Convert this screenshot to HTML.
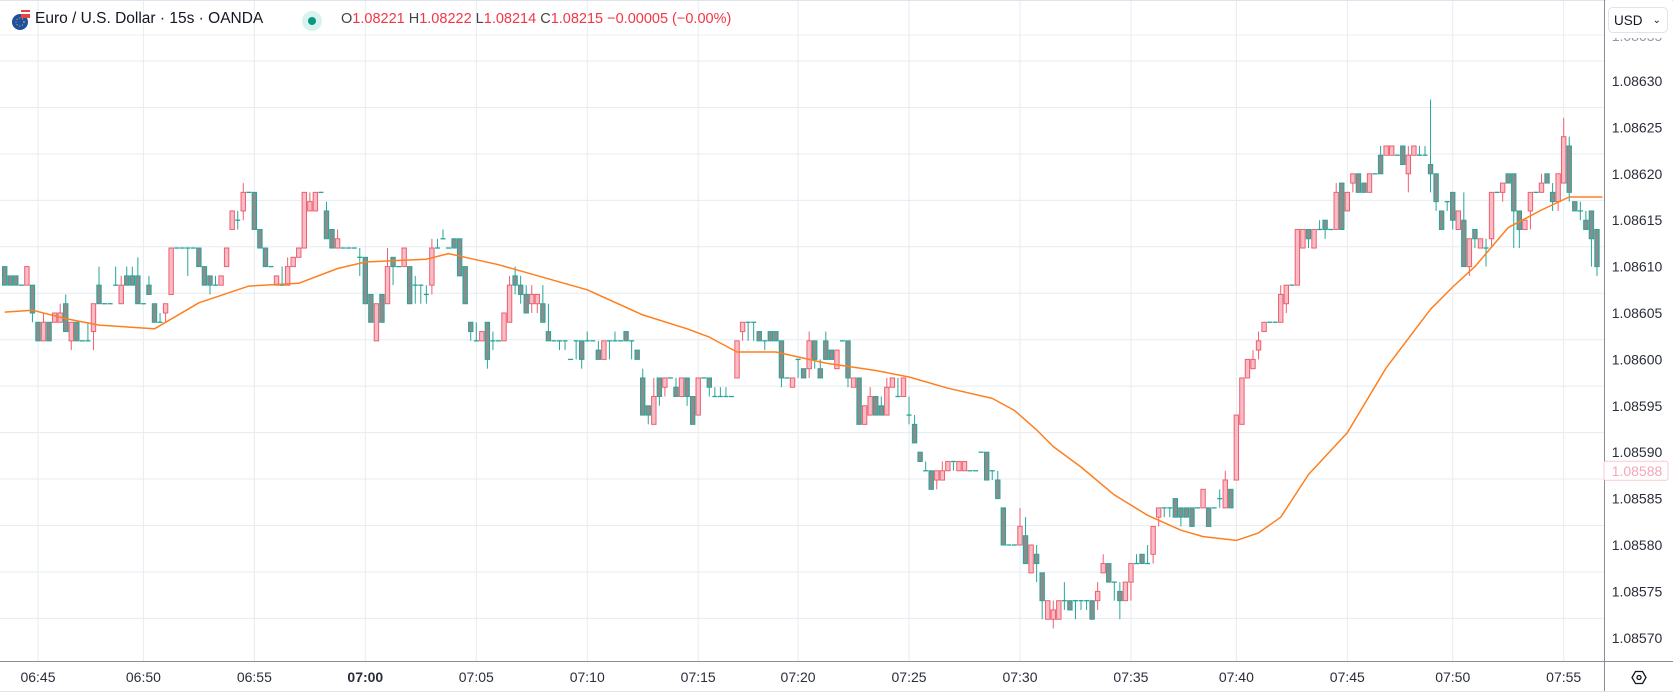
<!DOCTYPE html>
<html><head><meta charset="utf-8">
<style>
html,body{margin:0;padding:0;background:#fff;}
body{width:1673px;height:693px;position:relative;overflow:hidden;font-family:"Liberation Sans",sans-serif;}
#chart{position:absolute;left:0;top:0;}
.hdr{position:absolute;top:10px;font-size:15.5px;color:#131722;white-space:nowrap;}
.red{color:#f23645;}
</style></head>
<body>
<svg id="chart" width="1673" height="693"></svg>

<div class="hdr" style="left:10px;top:8px;">
<svg width="22" height="24"><circle cx="10" cy="14" r="8" fill="#1e4fa3"/><rect x="11" y="2" width="9" height="8" fill="#e84444"/><rect x="11" y="4" width="9" height="2" fill="#fff"/><circle cx="10" cy="14" r="4" fill="none" stroke="#f5d000" stroke-width="1" stroke-dasharray="1 2"/></svg>
</div>
<div class="hdr" style="left:35px;">Euro / U.S. Dollar · 15s · OANDA</div>
<div style="position:absolute;left:302px;top:11px;width:20px;height:20px;border-radius:50%;background:#d9f2ee;"><div style="position:absolute;left:6px;top:6px;width:8px;height:8px;border-radius:50%;background:#089981;"></div></div>
<div class="hdr" style="left:341px;font-size:14.5px;top:11px;"><span style="color:#444">O</span><span class="red">1.08221</span> <span style="color:#444">H</span><span class="red">1.08222</span> <span style="color:#444">L</span><span class="red">1.08214</span> <span style="color:#444">C</span><span class="red">1.08215</span> <span class="red">−0.00005 (−0.00%)</span></div>

<div style="position:absolute;left:1608px;top:7px;width:60px;height:26px;border:1px solid #e0e3eb;border-radius:5px;background:#fff;font-size:13.5px;color:#131722;line-height:26px;box-sizing:border-box;padding-left:5px;">USD<span style="position:absolute;right:6px;top:0;font-size:10px;">⌄</span></div>

<script>
const opens=[110,109,109,108,108,108,104,102,104,104,104,106,102,104,102,102,103,108,106,106,108,106,109,109,109,106,108,106,104,105,107,112,112,112,112,112,110,109,108,108,110,114,115,116,118,118,114,112,110,108,108,108,110,111,112,116,116,118,116,114,112,112,112,112,111,111,107,102,107,106,111,110,110,110,108,108,107,108,112,113,112,113,113,110,104,102,102,104,102,102,102,104,109,108,107,106,106,106,103,102,102,102,100,102,102,102,102,101,100,102,102,102,103,102,101,98,95,93,98,97,98,97,96,98,96,94,98,98,96,96,96,96,98,103,104,104,103,102,103,103,102,98,97,100,99,99,102,99,102,101,99,102,102,97,98,93,94,96,95,94,97,96,96,94,93,90,88,88,87,87,88,89,88,88,88,88,90,90,88,87,84,80,80,80,81,77,79,77,72,72,72,74,74,74,74,74,74,74,77,78,76,75,74,76,78,79,78,79,83,84,84,85,84,84,84,84,84,84,84,85,84,86,87,93,98,99,101,103,104,104,104,106,108,108,112,114,112,114,115,114,114,119,116,119,120,119,118,120,122,122,122,122,123,120,122,122,122,121,120,116,117,118,114,115,110,114,112,112,113,118,118,120,120,116,114,116,118,118,120,118,117,119,123,117,116,115,116,114];
const closes=[108,108,108,108,110,105,102,104,102,105,105,103,104,102,102,102,106,106,106,106,108,108,108,108,106,106,107,104,104,106,112,112,112,112,112,110,108,108,108,109,112,116,115,118,118,114,112,110,110,109,108,110,111,112,118,117,118,118,113,112,113,112,112,112,111,106,104,106,104,110,110,110,112,106,108,108,107,112,112,113,112,112,109,106,103,102,103,100,102,102,105,108,108,107,105,107,107,104,102,102,102,102,100,102,100,102,102,100,102,102,102,102,102,102,100,94,94,96,96,98,98,96,98,96,93,98,98,97,96,96,96,96,102,104,104,104,102,102,102,102,98,98,98,100,98,102,100,98,100,100,101,102,98,98,93,95,96,94,94,97,98,96,98,94,91,89,88,86,88,88,89,89,89,89,88,88,90,87,88,85,80,80,80,82,78,80,78,74,74,73,74,74,73,74,74,74,72,75,78,76,76,74,76,78,78,78,78,82,84,84,84,83,83,83,82,84,86,82,84,85,87,84,94,98,100,100,102,104,104,104,107,108,108,114,114,113,114,114,114,114,118,114,118,120,118,118,120,120,120,123,123,122,121,122,123,122,122,120,117,114,117,115,116,110,113,113,113,112,118,118,119,119,116,114,115,118,118,119,119,117,120,124,118,116,116,114,113,110];
const highs=[110,109,109,108,110,108,104,105,104,105,106,107,104,104,102,104,106,110,106,106,110,109,110,110,111,106,109,106,105,106,112,112,112,112,112,112,110,109,109,109,112,116,116,119,118,118,114,112,110,109,110,111,111,112,118,118,118,118,117,114,114,112,112,112,112,111,107,106,107,112,111,110,112,110,109,108,108,113,113,114,112,113,113,110,104,104,103,104,103,102,105,109,110,109,108,108,107,108,106,102,102,102,100,102,102,103,102,102,102,102,103,102,103,102,101,99,95,98,98,98,98,98,98,98,96,98,98,98,97,97,97,96,102,104,104,104,103,102,103,103,102,98,98,100,99,103,102,100,103,101,101,102,102,98,98,95,97,96,96,98,98,98,98,96,94,90,89,88,88,89,89,89,89,89,88,88,90,90,88,88,84,80,80,84,83,80,80,77,74,74,74,76,74,74,74,74,74,76,79,78,76,76,76,78,79,79,80,82,84,84,84,85,84,84,84,84,86,84,84,86,88,86,94,98,100,101,103,104,104,104,108,108,108,114,114,114,114,115,115,114,119,119,118,120,120,119,120,120,123,123,123,122,123,123,123,123,123,128,120,116,117,118,116,118,113,114,113,113,118,118,119,120,120,116,115,118,118,120,120,119,120,126,124,117,117,116,116,114];
const lows=[108,108,108,108,108,104,102,102,102,104,104,103,101,102,102,102,101,106,106,106,108,106,108,108,106,106,107,104,104,104,107,112,112,109,112,110,108,107,108,108,110,114,114,115,118,114,112,110,110,108,108,108,110,111,112,116,116,118,113,112,112,112,112,112,109,106,104,102,104,106,108,110,110,106,106,106,106,107,112,113,112,112,109,106,102,102,102,99,101,102,102,104,107,106,105,105,105,104,102,102,101,101,100,100,99,102,102,100,100,100,102,102,102,100,100,94,93,93,95,96,98,96,96,95,93,94,98,96,96,96,96,96,98,102,102,102,102,101,102,102,97,98,97,98,98,98,99,98,100,100,99,102,97,97,93,93,94,94,94,94,97,96,96,93,91,89,88,86,86,87,88,88,88,88,88,88,90,87,87,85,80,80,80,80,78,77,76,72,72,71,72,73,73,72,73,73,72,73,77,76,74,72,74,74,78,78,78,78,82,83,83,83,82,83,82,84,84,82,84,84,84,84,87,93,98,99,100,103,104,104,104,105,108,108,112,112,112,114,113,114,114,114,116,118,118,118,118,120,120,122,122,122,121,118,122,122,122,118,116,114,116,114,114,110,109,112,112,110,112,118,117,119,112,112,114,114,118,118,119,116,116,119,117,116,115,114,110,109];
// moving average line: candle index -> value (in 0.00001 above 1.08500)
const maIndex=[0,5,11,17,27,35,44,53,60,65,76,80,83,89,105,115,123,127,132,139,148,157,163,170,178,182,186,189,194,200,206,212,216,222,226,230,235,242,249,257,261,265,271,277,282,288];
const maValues=[105.1,105.3,104.4,103.7,103.3,106.1,107.9,108.2,109.8,110.5,110.8,111.4,111.0,110.2,107.5,104.8,103.3,102.4,100.8,100.8,99.6,98.8,98.1,96.9,95.8,94.5,92.4,90.6,88.4,85.4,83.2,81.6,80.9,80.5,81.3,83.0,87.6,92.1,99.1,105.4,107.8,110.0,114.2,116.1,117.5,117.5];
const priceTicks=[70,75,80,85,90,95,100,105,110,115,120,125,130];
const timeTickIndex=[6,25,45,65,85,105,125,143,163,183,203,222,242,261,281];
const timeTickLabels=["06:45","06:50","06:55","07:00","07:05","07:10","07:15","07:20","07:25","07:30","07:35","07:40","07:45","07:50","07:55"];
const lastPrice=88;

const NS="http://www.w3.org/2000/svg";
const svg=document.getElementById('chart');
const PLOT_R=1604, PLOT_B=661;
function yOf(v){return 81+(130-v)*9.28;}
function xOf(i){return 4.7+i*5.548;}
function mk(tag,attrs,parent){const e=document.createElementNS(NS,tag);for(const k in attrs)e.setAttribute(k,attrs[k]);(parent||svg).appendChild(e);return e;}

// grid
const grid=mk('g',{});


[35].forEach(y=>{mk('line',{x1:0,x2:PLOT_R,y1:y,y2:y,stroke:'#e9eef3','stroke-width':1},grid);});
for(let y=61;y<PLOT_B;y+=46.45){const l=mk('line',{x1:0,x2:PLOT_R,y1:y.toFixed(1),y2:y.toFixed(1),stroke:'#e6ecf1','stroke-width':1},grid);

}
timeTickIndex.forEach((idx,k)=>{const x=xOf(idx);const l=mk('line',{x1:x,x2:x,y1:0,y2:PLOT_B,stroke:'#e6ecf1','stroke-width':1},grid);

});

// candles
const cg=mk('g',{});


for(let i=0;i<opens.length;i++){
  const o=opens[i],c=closes[i],h=highs[i],l=lows[i];
  const up=c>o;
  const border=up?'#ef5f6f':'#26a69a';
  const fill=up?'#f8bcc6':'#8c8c8c';
  const x=xOf(i);
  const g=mk('g',{},cg);
  
  
  if(h>l) mk('line',{x1:x,x2:x,y1:yOf(h),y2:yOf(l),stroke:border,'stroke-width':1},g);
  if(o===c){
    mk('line',{x1:x-2.5,x2:x+2.5,y1:yOf(o),y2:yOf(o),stroke:border,'stroke-width':1.3},g);
  } else {
    const top=yOf(Math.max(o,c)),bot=yOf(Math.min(o,c));
    mk('rect',{x:x-2.2,y:top,width:4.4,height:bot-top,fill:fill,stroke:border,'stroke-width':1},g);
  }
}

// moving average
let d='';
maIndex.forEach((idx,k)=>{d+=(k?'L':'M')+Math.min(xOf(idx),PLOT_R).toFixed(1)+' '+yOf(maValues[k]).toFixed(1);});
const ma=mk('path',{d:d,fill:'none',stroke:'#ff7f1e','stroke-width':1.5,'stroke-linejoin':'round'});



// axes
mk('rect',{x:PLOT_R,y:0,width:1673-PLOT_R,height:693,fill:'#fff'});
mk('rect',{x:0,y:PLOT_B,width:1673,height:693-PLOT_B,fill:'#fff'});
mk('line',{x1:0,x2:1673,y1:0.5,y2:0.5,stroke:'#e0e3eb','stroke-width':1});
mk('line',{x1:PLOT_R+0.5,x2:PLOT_R+0.5,y1:0,y2:691,stroke:'#8a8d96','stroke-width':1});
mk('line',{x1:0,x2:1673,y1:PLOT_B+0.5,y2:PLOT_B+0.5,stroke:'#8a8d96','stroke-width':1});
mk('line',{x1:0,x2:1673,y1:691.5,y2:691.5,stroke:'#e0e3eb','stroke-width':1});

const pax=mk('g',{});


priceTicks.forEach(v=>{const t=mk('text',{x:1637,y:yOf(v)+5,'text-anchor':'middle','font-size':'14','fill':'#2a2e39','font-family':'Liberation Sans, sans-serif'},pax);t.textContent=(1.085+v/100000).toFixed(5);

});
const tt=mk('text',{x:1637,y:41,'text-anchor':'middle','font-size':'14','fill':'#9598a1'},pax);tt.textContent='1.08635';
mk('rect',{x:1606,y:0,width:66,height:38,fill:'#fff'},pax);

// last price label
const lp=mk('g',{});


mk('rect',{x:1604,y:yOf(lastPrice)-9.5,width:64,height:19,fill:'#fff',stroke:'#f9c9d3','stroke-width':1,rx:2},lp);
const lpt=mk('text',{x:1637,y:yOf(lastPrice)+5,'text-anchor':'middle','font-size':'14','fill':'#f7a6b8'},lp);lpt.textContent=(1.085+lastPrice/100000).toFixed(5);

// time axis
const tax=mk('g',{});


timeTickIndex.forEach((idx,k)=>{const t=mk('text',{x:xOf(idx),y:682,'text-anchor':'middle','font-size':'14','fill':'#2a2e39','font-weight':timeTickLabels[k]==='07:00'?'bold':'normal'},tax);t.textContent=timeTickLabels[k];

});

// settings icon
const st=mk('g',{});


mk('polygon',{points:'1632,677.5 1635.5,671.5 1642.5,671.5 1646,677.5 1642.5,683.5 1635.5,683.5',fill:'none',stroke:'#131722','stroke-width':1.3},st);
mk('circle',{cx:1639,cy:677.5,r:2,fill:'none',stroke:'#131722','stroke-width':1.3},st);
</script>
</body></html>
